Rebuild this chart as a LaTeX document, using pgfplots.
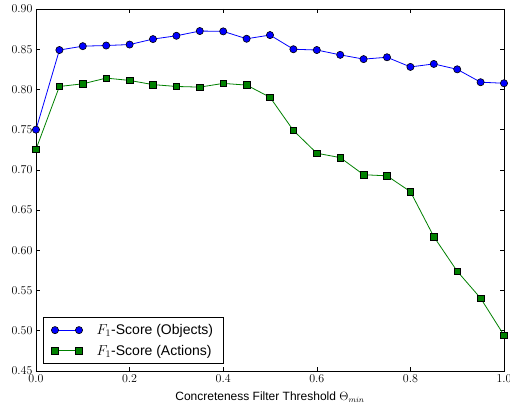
\documentclass[border=0pt]{standalone}
\usepackage{pgfplots}
\pgfplotsset{compat=1.18}
\usepackage{fontspec}
\setmainfont{Liberation Sans}
\definecolor{mplgreen}{RGB}{0,128,0}
\begin{document}
\begin{tikzpicture}
\begin{axis}[
  scale only axis,
  width=468pt, height=362pt,
  xmin=0, xmax=1, ymin=0.45, ymax=0.90,
  xtick={0,0.2,0.4,0.6,0.8,1.0},
  ytick={0.45,0.50,0.55,0.60,0.65,0.70,0.75,0.80,0.85,0.90},
  xticklabel style={/pgf/number format/.cd,fixed,fixed zerofill,precision=1},
  yticklabel style={/pgf/number format/.cd,fixed,fixed zerofill,precision=2},
  tick label style={font=\fontsize{12}{14}\selectfont},
  scaled ticks=false,
  tick align=inside,
  major tick length=4pt,
  every tick/.style={black, line width=0.6pt},
  axis line style={line width=0.8pt},
  xlabel={Concreteness Filter Threshold $\Theta_{min}$},
  xlabel style={font=\fontsize{12}{14}\selectfont, yshift=-3pt},
  legend cell align=left,
  legend style={at={(0,0)}, anchor=south west, xshift=7pt, yshift=7pt,
    font=\fontsize{14}{16}\selectfont, draw=black, line width=0.8pt,
    inner xsep=8pt, inner ysep=5pt, row sep=5pt,
    /tikz/every odd column/.append style={column sep=12pt}},
  legend image code/.code={\draw[mark repeat=2,mark phase=1] plot coordinates {(0pt,0pt) (12pt,0pt) (24pt,0pt)};},
]
\addplot[blue, line width=0.8pt, mark=*, mark size=3.6pt, mark options={fill=blue, draw=black, line width=0.6pt}]
coordinates {
(0.00,0.750) (0.05,0.849) (0.10,0.8538) (0.15,0.8546) (0.20,0.8558)
(0.25,0.8626) (0.30,0.8667) (0.35,0.8726) (0.40,0.8722) (0.45,0.863)
(0.50,0.8676) (0.55,0.850) (0.60,0.849) (0.65,0.843) (0.70,0.8377)
(0.75,0.840) (0.80,0.828) (0.85,0.8317) (0.90,0.825) (0.95,0.809) (1.00,0.8077)
};
\addlegendentry{$F_1$-Score (Objects)}
\addplot[mplgreen, line width=0.8pt, mark=square*, mark size=3.3pt, mark options={fill=mplgreen, draw=black, line width=0.6pt}]
coordinates {
(0.00,0.7256) (0.05,0.8037) (0.10,0.807) (0.15,0.8141) (0.20,0.8112)
(0.25,0.806) (0.30,0.8037) (0.35,0.8029) (0.40,0.8075) (0.45,0.8054)
(0.50,0.7903) (0.55,0.749) (0.60,0.7207) (0.65,0.7153) (0.70,0.694)
(0.75,0.6926) (0.80,0.673) (0.85,0.617) (0.90,0.574) (0.95,0.5405) (1.00,0.4944)
};
\addlegendentry{$F_1$-Score (Actions)}
\end{axis}
\pgfresetboundingbox
\useasboundingbox ([xshift=-36pt,yshift=-36pt]current axis.south west) rectangle ([xshift=6pt,yshift=9pt]current axis.north east);
\end{tikzpicture}
\end{document}
